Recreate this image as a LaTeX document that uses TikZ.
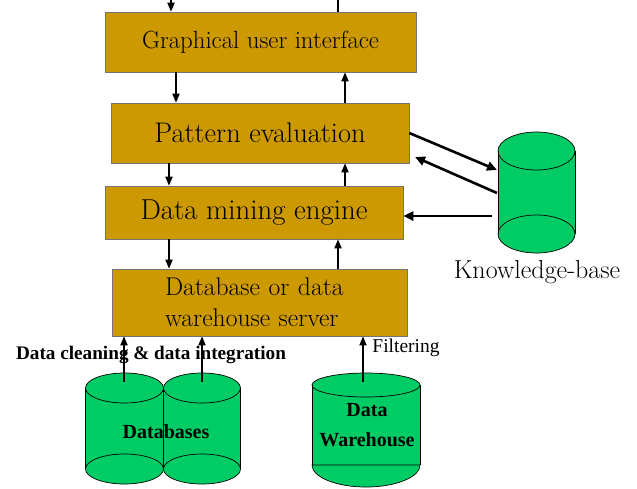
\documentclass[tikz,border=0pt]{standalone}
\usepackage{fontspec}
\newfontfamily\timesfont{Liberation Serif}
\usetikzlibrary{arrows.meta}

\definecolor{boxgold}{RGB}{204,153,0}
\definecolor{cylgreen}{RGB}{0,204,102}

% cylinder: x, y of top centre, rx, ry, height
\newcommand{\dbdrum}[5]{%
  \fill[cylgreen] ({#1-#3},#2) rectangle ({#1+#3},{#2+#5});
  \filldraw[fill=cylgreen, draw=black, line width=0.7pt] (#1,{#2+#5}) ellipse ({#3} and {#4});
  \filldraw[fill=cylgreen, draw=black, line width=0.7pt] (#1,#2) ellipse ({#3} and {#4});
  \draw[line width=0.7pt] ({#1-#3},#2) -- ({#1-#3},{#2+#5});
  \draw[line width=0.7pt] ({#1+#3},#2) -- ({#1+#3},{#2+#5});
}

\tikzset{
  layer/.style={draw=black!55, line width=0.6pt, fill=boxgold, inner sep=0pt},
  flow/.style={line width=1.7pt, -{Triangle[length=9pt,width=7pt]}},
  kbflow/.style={line width=2.6pt, -{Triangle[length=10pt,width=9pt]}},
  tag/.style={font=\timesfont\bfseries\fontsize{20}{30}\selectfont, align=center},
}

\begin{document}
\begin{tikzpicture}[x=1pt, y=-1pt]
  \useasboundingbox (0,0) rectangle (637,488);

  % the four layers
  \node[layer, minimum width=311pt, minimum height=60pt, font=\fontsize{24.8}{28}\selectfont]
    (gui) at (260.5,42) {Graphical user interface};
  \node[layer, minimum width=298pt, minimum height=60pt, font=\fontsize{28.4}{31}\selectfont]
    (pe) at (260,133) {Pattern evaluation};
  \node[layer, minimum width=298pt, minimum height=53pt, font=\fontsize{28.8}{31}\selectfont]
    (dm) at (254,212.5) {Data mining engine};
  \node[layer, minimum width=295pt, minimum height=67pt, text width=189pt, align=left,
    font=\fontsize{25.6}{31}\selectfont]
    (srv) at (259.5,302.5) {Database or data\\warehouse server};

  % cylinders
  \dbdrum{536.5}{151}{38.5}{19}{83}
  \dbdrum{124.5}{388}{39}{15}{81}
  \dbdrum{202}{388}{38.5}{15}{81}
  \fill[cylgreen] (312,385) rectangle (420,465);
  \filldraw[fill=cylgreen, draw=black, line width=0.7pt] (312,465) arc (180:0:54 and 22) -- cycle;
  \filldraw[fill=cylgreen, draw=black, line width=0.7pt] (366,385) ellipse (54 and 12);
  \draw[line width=0.7pt] (312,385) -- (312,465) (420,385) -- (420,465);

  \node[font=\fontsize{26}{28}\selectfont] (kb) at (537,272) {Knowledge-base};
  \node[tag] (dbs) at (166,432) {Databases};
  \node[tag] (dwh) at (367,425) {Data\\Warehouse};
  \node[tag, font=\timesfont\bfseries\fontsize{19.2}{22}\selectfont] (clean) at (151,355)
    {Data cleaning \& data integration};
  \node[font=\timesfont\fontsize{19.5}{22}\selectfont] (filt) at (406,348) {Filtering};

  % arrow columns and free ends
  \coordinate (topin) at (171,0);
  \coordinate (topout) at (338,0);
  \coordinate (c1) at (176,0);
  \coordinate (c2) at (169,0);
  \coordinate (u1) at (345,0);
  \coordinate (u2) at (338,0);
  \coordinate (db1top) at (124,382);
  \coordinate (db2top) at (202,382);
  \coordinate (dwhtop) at (363,382);
  \coordinate (kbin) at (497,170);
  \coordinate (kbout1) at (497,193);
  \coordinate (pein) at (415,157);
  \coordinate (kbout2) at (492,216);

  \draw[flow] (topin) -- (gui.north -| topin);
  \draw[line width=1.7pt] (gui.north -| topout) -- (topout);
  \draw[flow] (gui.south -| c1) -- (pe.north -| c1);
  \draw[flow] (pe.north -| u1) -- (gui.south -| u1);
  \draw[flow] (pe.south -| c2) -- (dm.north -| c2);
  \draw[flow] (dm.north -| u1) -- (pe.south -| u1);
  \draw[flow] (dm.south -| c2) -- (srv.north -| c2);
  \draw[flow] (srv.north -| u2) -- (dm.south -| u2);

  \draw[flow] (db1top) -- (srv.south -| db1top);
  \draw[flow] (db2top) -- (srv.south -| db2top);
  \draw[flow] (dwhtop) -- (srv.south -| dwhtop);

  \draw[kbflow] (pe.east) -- (kbin);
  \draw[kbflow] (kbout1) -- (pein);
  \draw[kbflow] (kbout2) -- (dm.east |- kbout2);
\end{tikzpicture}
\end{document}
